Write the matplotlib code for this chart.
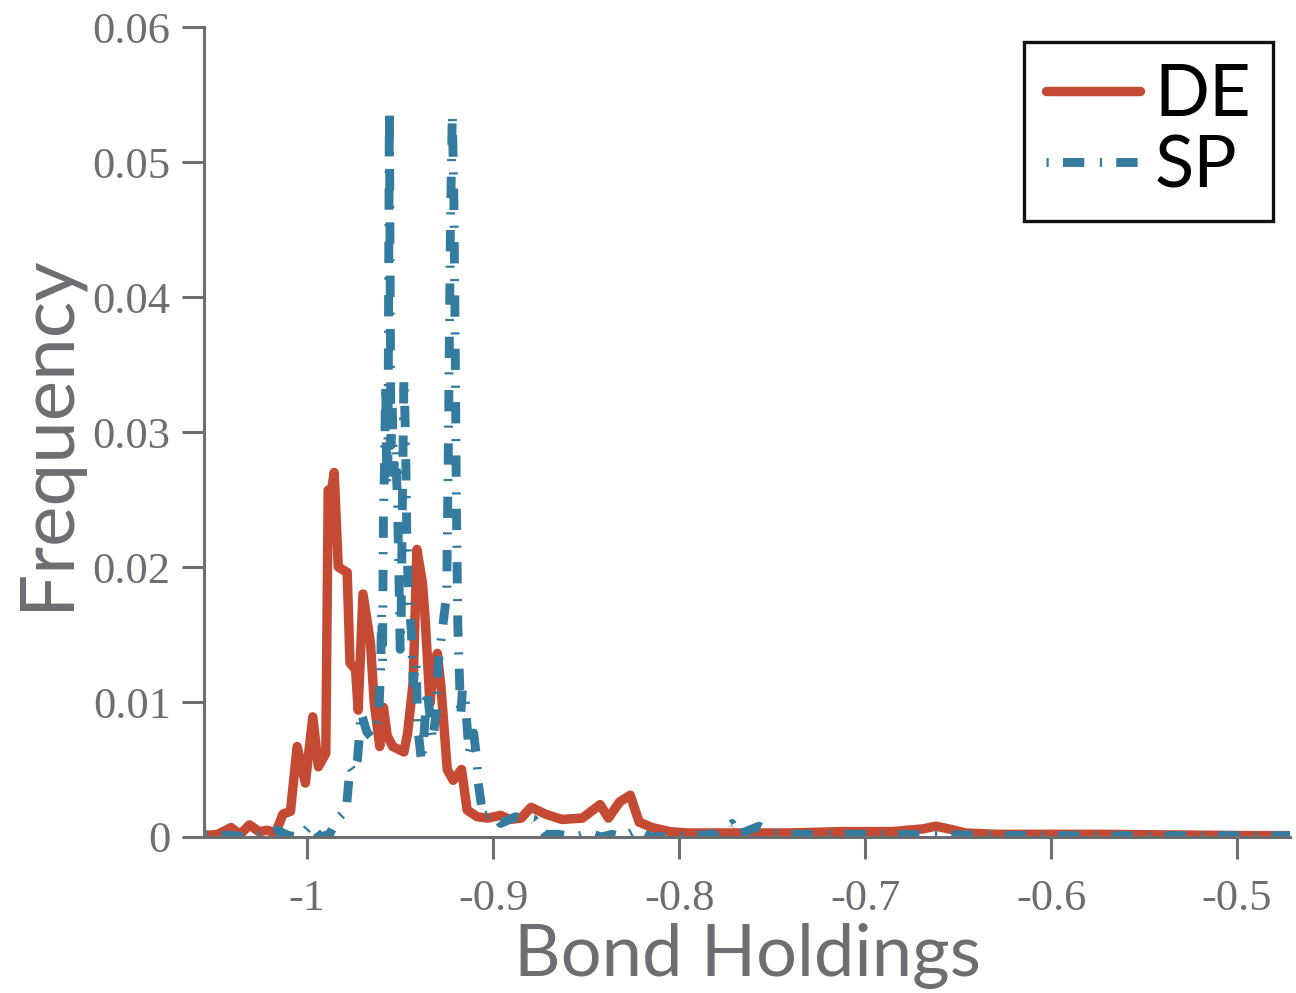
import matplotlib
matplotlib.use("Agg")
import matplotlib.pyplot as plt

# distribution of bond holdings
de_x = [-1.055, -1.048, -1.041, -1.036, -1.031, -1.026, -1.0215, -1.017, -1.013, -1.009,
        -1.0054, -1.001, -0.997, -0.994, -0.990, -0.9887, -0.987, -0.9855, -0.9833, -0.9785,
        -0.977, -0.974, -0.9726, -0.970, -0.966, -0.964, -0.961, -0.959, -0.957, -0.954,
        -0.948, -0.946, -0.943, -0.941, -0.938, -0.9365, -0.934, -0.932, -0.930, -0.928,
        -0.9247, -0.9215, -0.917, -0.914, -0.9086, -0.903, -0.896, -0.891, -0.885, -0.8796,
        -0.872, -0.863, -0.852, -0.8425, -0.838, -0.832, -0.8263, -0.8215, -0.8145, -0.805,
        -0.796, -0.769, -0.741, -0.713, -0.6855, -0.669, -0.662, -0.655, -0.646, -0.6296,
        -0.574, -0.49, -0.47]
de_y = [0.0001, 0.0002, 0.0007, 0.0002, 0.0009, 0.0004, 0.0005, 0.0003, 0.0017, 0.0019,
        0.0067, 0.0040, 0.0089, 0.0052, 0.0062, 0.0257, 0.0255, 0.0270, 0.0200, 0.0196,
        0.0129, 0.0124, 0.0094, 0.0180, 0.0144, 0.0100, 0.0067, 0.0096, 0.0075, 0.0067,
        0.0063, 0.0077, 0.0115, 0.0213, 0.0188, 0.0160, 0.0099, 0.0129, 0.0136, 0.0110,
        0.0050, 0.0042, 0.0050, 0.0020, 0.0015, 0.0014, 0.0016, 0.0013, 0.0014, 0.0022,
        0.0017, 0.0013, 0.0014, 0.0024, 0.0014, 0.0026, 0.0031, 0.0011, 0.0007, 0.0004,
        0.0003, 0.0003, 0.0003, 0.0004, 0.0004, 0.0006, 0.0008, 0.0006, 0.0003, 0.0002,
        0.0002, 0.0001, 0.0001]

sp_x = [-1.055, -1.040, -1.030, -1.022, -1.016, -1.010, -1.004, -0.998, -0.993, -0.988,
        -0.984, -0.979, -0.977, -0.975, -0.973, -0.971, -0.968, -0.9656, -0.963, -0.9615,
        -0.9605, -0.9600, -0.9595, -0.9590, -0.9585, -0.9578, -0.9572, -0.9566, -0.9558, -0.9550,
        -0.9543, -0.9535, -0.9525, -0.9515, -0.9508, -0.9500, -0.9495, -0.9488, -0.9480, -0.9472,
        -0.9465, -0.9458, -0.9450, -0.9440, -0.9430, -0.9415, -0.9405, -0.9385, -0.9370, -0.9355,
        -0.9340, -0.9325, -0.9305, -0.9295, -0.9250, -0.9240, -0.9230, -0.9220, -0.9212, -0.9205,
        -0.9198, -0.9190, -0.9183, -0.9175, -0.9165, -0.9150, -0.9130, -0.9105, -0.9090, -0.9080,
        -0.9055, -0.9020, -0.8990, -0.8960, -0.8880, -0.8780, -0.8720, -0.8650, -0.8560, -0.8480,
        -0.8420, -0.8360, -0.8300, -0.8230, -0.8150, -0.7950, -0.7800, -0.7715, -0.7680, -0.7570,
        -0.7500, -0.7400, -0.70, -0.60, -0.50, -0.47]
sp_y = [0.0002, 0.0001, 0.0000, 0.0002, 0.0005, 0.0001, 0.0000, 0.0009, 0.0000, 0.0002,
        0.0013, 0.0020, 0.0052, 0.0048, 0.0057, 0.0092, 0.0078, 0.0074, 0.0082, 0.0092,
        0.0125, 0.0166, 0.0130, 0.0237, 0.0270, 0.0336, 0.0260, 0.0280, 0.0539, 0.0290,
        0.0320, 0.0270, 0.0287, 0.0250, 0.0205, 0.0139, 0.0160, 0.0250, 0.0340, 0.0300,
        0.0230, 0.0190, 0.0168, 0.0153, 0.0114, 0.0130, 0.0081, 0.0055, 0.0080, 0.0109,
        0.0090, 0.0072, 0.0094, 0.0129, 0.0180, 0.0300, 0.0450, 0.0536, 0.0480, 0.0380,
        0.0250, 0.0156, 0.0126, 0.0089, 0.0110, 0.0101, 0.0062, 0.0077, 0.0060, 0.0040,
        0.0015, 0.0017, 0.0015, 0.0010, 0.0015, 0.0013, 0.0002, 0.0002, 0.0000, 0.0003,
        0.0000, 0.0002, 0.0000, 0.0005, 0.0000, 0.0001, 0.0002, 0.0010, 0.0002, 0.0008,
        0.0003, 0.0002, 0.0002, 0.0001, 0.0001, 0.0001]

x_ticks = [-1, -0.9, -0.8, -0.7, -0.6, -0.5]
x_labels = ['-1', '-0.9', '-0.8', '-0.7', '-0.6', '-0.5']
y_ticks = [0, 0.01, 0.02, 0.03, 0.04, 0.05, 0.06]
y_labels = ['0', '0.01', '0.02', '0.03', '0.04', '0.05', '0.06']

gray = '#6d6e71'
red = '#c54a33'
blue = '#337c9f'

fig = plt.figure(figsize=(12.96, 9.93), dpi=100)
ax = fig.add_axes([0.1574, 0.1571, 0.838, 0.8157])

ax.plot(de_x, de_y, color=red, lw=6.8, solid_joinstyle='round', solid_capstyle='round',
        label='DE')
ax.plot(sp_x, sp_y, color=blue, lw=6.4, linestyle=(0, (0.25, 1.6, 2.4, 1.75)),
        dash_capstyle='butt', label='SP')

ax.set_xlim(-1.0555, -0.4715)
ax.set_ylim(0, 0.06)
ax.set_xticks(x_ticks)
ax.set_xticklabels(x_labels)
ax.set_yticks(y_ticks)
ax.set_yticklabels(y_labels)

for s in ['top', 'right']:
    ax.spines[s].set_visible(False)
for s in ['left', 'bottom']:
    ax.spines[s].set_color(gray)
    ax.spines[s].set_linewidth(2.2)
ax.tick_params(direction='out', length=16, width=2.2, color=gray, labelcolor=gray,
               labelsize=32, pad=8)
for lab in ax.get_xticklabels() + ax.get_yticklabels():
    lab.set_family('Liberation Serif')
ax.tick_params(axis='x', pad=14)

ax.set_xlabel('Bond Holdings', family='Lato', fontsize=52, color=gray, labelpad=3)
ax.set_ylabel('Frequency', family='Lato', fontsize=55, color=gray, labelpad=8)

leg = ax.legend(loc='upper right', bbox_to_anchor=(0.984, 0.982), fancybox=False,
                prop={'family': 'Lato', 'size': 52}, handlelength=1.3, handletextpad=0.2,
                borderpad=0.3, labelspacing=0.08, borderaxespad=0, framealpha=1)
leg.get_frame().set_edgecolor('#111111')
leg.get_frame().set_linewidth(2.4)

fig.savefig('out.png', dpi=100)
